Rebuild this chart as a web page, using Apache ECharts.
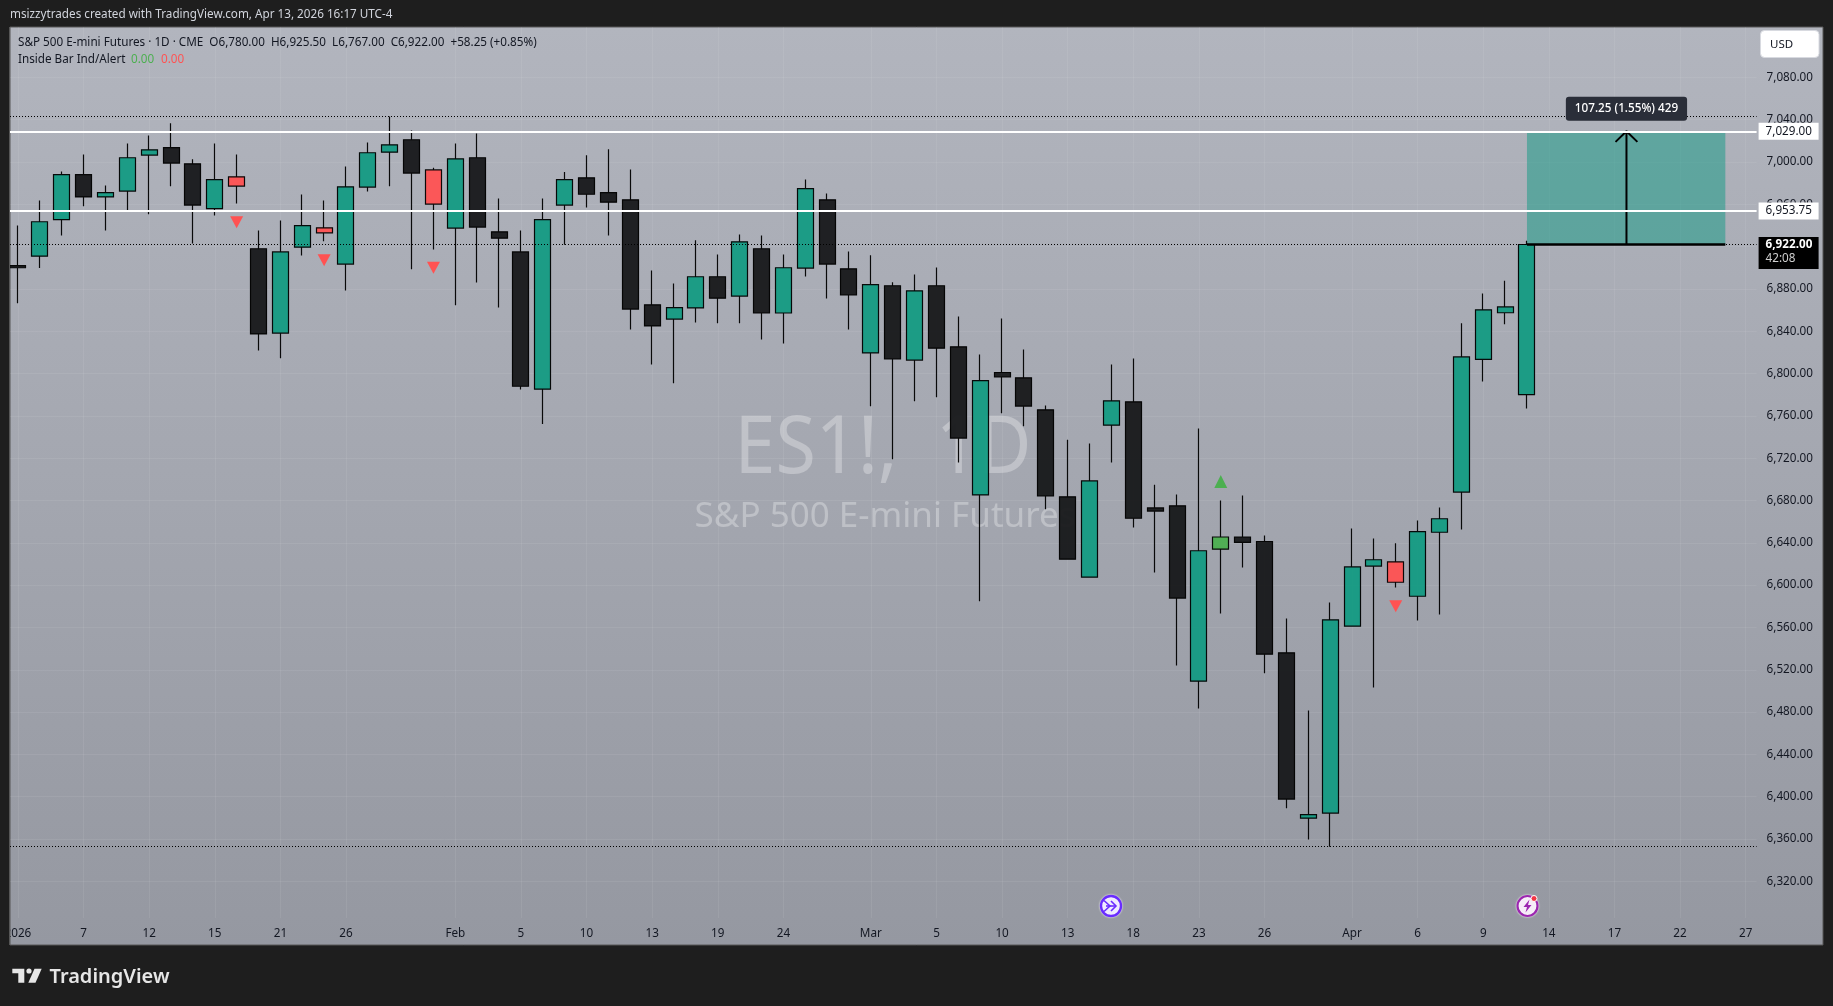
<!DOCTYPE html>
<html>
<head>
<meta charset="utf-8">
<title>ES1! 1D</title>
<style>html,body{margin:0;padding:0;background:#1e1e1e;overflow:hidden}#c{width:1833px;height:1006px}</style>
<script src="https://cdn.jsdelivr.net/npm/echarts@6/dist/echarts.min.js"></script>
</head>
<body>
<div id="c"></div>
<script>
const dates = ['01-02','01-05','01-06','01-07','01-08','01-09','01-12','01-13','01-14','01-15','01-16','01-20','01-21','01-22','01-23','01-26','01-27','01-28','01-29','01-30','02-02','02-03','02-04','02-05','02-06','02-09','02-10','02-11','02-12','02-13','02-17','02-18','02-19','02-20','02-23','02-24','02-25','02-26','02-27','03-02','03-03','03-04','03-05','03-06','03-09','03-10','03-11','03-12','03-13','03-16','03-17','03-18','03-19','03-20','03-23','03-24','03-25','03-26','03-27','03-30','03-31','04-01','04-02','04-03','04-06','04-07','04-08','04-09','04-10','04-13','04-14','04-15','04-16','04-17','04-20','04-21','04-22','04-23','04-24','04-27'];
const opens = [6902,6911,6945.5,6988,6967,6972.5,7006.5,7013.5,6998.25,6956,6977.25,6918,6838.25,6919.5,6933,6903.5,6976.25,7009.25,7021,6960.25,6937.5,7004,6934,6915,6785.25,6959.25,6985,6971,6964.25,6865,6851.5,6862,6891.5,6873.25,6918,6857.25,6899.75,6964.25,6899,6819.5,6883,6812.75,6883,6825.25,6685.25,6801,6796,6765.75,6683.5,6607.5,6751.25,6773.25,6673,6675,6509.25,6634,6645.5,6641.25,6536,6379.75,6384.5,6561.25,6618,6602.75,6589.5,6650,6688,6813.5,6857.5,6780];
const closes = [6900,6943.5,6988,6967,6971,7004,7011.5,6999,6959.25,6983.25,6986,6837.5,6915,6939.75,6937.75,6976.5,7008.75,7016.25,6989.5,6992.5,7003,6938.5,6928,6788,6945.5,6983.25,6969.5,6962,6861,6845,6862.25,6891.5,6871.25,6924.5,6857.25,6900,6974.75,6903.5,6874.25,6884,6813.75,6878.25,6824,6739,6793.25,6796.75,6769.25,6684.25,6624.5,6698.5,6774.25,6663.25,6670,6587.75,6632.5,6645.5,6640.5,6534.75,6397.75,6383,6567.25,6617.25,6624,6622,6650.5,6662.75,6815.75,6860.25,6863,6922];
const lows = [6866.5,6899.75,6930.5,6958.25,6935.25,6954.25,6950.5,6977,6923,6949.5,6960.75,6821.75,6814.5,6911.5,6925,6878.5,6972,6977,6898.5,6917.25,6864.5,6886,6862.5,6785,6752.25,6921.75,6957,6930.5,6841.75,6808.5,6790.75,6848.25,6847.5,6847.5,6832.25,6828.5,6891.75,6871,6841.75,6769,6719,6773.75,6777.5,6716,6584.75,6762.5,6750.25,6671.75,6624.5,6607.5,6716,6654.5,6612,6524,6483.5,6573.25,6616.75,6516.75,6389,6359.5,6352.75,6561.25,6503.25,6597.75,6566.5,6572.25,6652.5,6792.5,6846.5,6767];
const highs = [6940,6963.5,6991,7007,6977.75,7017.5,7025,7036.5,7002.5,7017.5,7007,6935.25,6944.75,6969.25,6963.5,6995.75,7018.5,7043,7029.75,6994.5,7017.5,7027,6965.5,6935.25,6965.5,6990.5,7006.25,7012,6993,6897.5,6885.25,6926,6912.5,6931.5,6930.5,6912.5,6983.5,6970.25,6915.5,6911.75,6886.25,6893.75,6900.25,6854,6818,6852,6822.75,6769.75,6737.5,6734,6808.5,6814.25,6695,6685.75,6748,6680,6684.75,6647,6568.5,6481.5,6583.5,6653.5,6644,6639.5,6661,6673.5,6847.5,6875.75,6887.75,6925.5];
const redBars = [10,14,19,63];
const limeBars = [55];
const sellIdx = [10,14,19,63];
const sellPrice = [6943,6907,6900,6580];
const buyIdx = [55];
const buyPrice = [6698];
const tickIdx = [0,3,6,9,12,15,20,23,26,29,32,35,39,42,45,48,51,54,57,61,64,67,70,73,76,79];
const tickText = ['2026','7','12','15','21','26','Feb','5','10','13','19','24','Mar','5','10','13','18','23','26','Apr','6','9','14','17','22','27'];
const priceTicks = [6320,6360,6400,6440,6480,6520,6560,6600,6640,6680,6720,6760,6800,6840,6880,6920,6960,7000,7040,7080];
const whiteLevels = [7029,6953.75];
const dottedLevels = [7043,6353];
const lastPrice = 6922;
const countdown = '42:08';
const toolStartX = 69, toolEndX = 78.07, toolMidX = 73.55;
const toolFrom = 6922, toolTo = 7029;
const toolText = '107.25 (1.55%) 429';

const FONT = '"Noto Sans", sans-serif';
const DARK = '#131722';
const TS = 11.7;
const fmt = v => v.toLocaleString('en-US',{minimumFractionDigits:2,maximumFractionDigits:2});
const candleData = opens.map((o,i)=>{
  const item = {value:[o,closes[i],lows[i],highs[i]]};
  if (redBars.includes(i)) item.itemStyle = {color:'#ff5252',color0:'#ff5252'};
  if (limeBars.includes(i)) item.itemStyle = {color:'#4caf50',color0:'#4caf50'};
  return item;
});
const tagLabel = {
  show:true, position:'end', distance:2, color:DARK, fontFamily:FONT, fontSize:TS,
  backgroundColor:'#ffffff', padding:[2,6,2,7], lineHeight:13, width:47, align:'left',
  formatter:p=>fmt(p.value)
};
const txt = (x,y,text,fill,size,extra) => ({type:'text',x,y,z:(extra&&extra.z)||5,silent:true,style:Object.assign({text,fill,font:(extra&&extra.weight||'normal')+' '+size+'px '+FONT,textVerticalAlign:'middle',textAlign:(extra&&extra.align)||'left'},(extra&&extra.style)||{})});

const chart = echarts.init(document.getElementById('c'),null,{renderer:'canvas'});
chart.setOption({
  animation:false,
  backgroundColor:'#1e1e1e',
  textStyle:{fontFamily:FONT},
  grid:{left:7,right:76.4,top:27,bottom:88,containLabel:false},
  xAxis:[
    {type:'category',data:dates,boundaryGap:true,
      axisLine:{show:false},axisTick:{show:false},
      axisLabel:{interval:0,margin:10,color:DARK,fontSize:TS,fontFamily:FONT,hideOverlap:false,
        formatter:(v,i)=>{const k=tickIdx.indexOf(i);return k<0?'':tickText[k];}},
      splitLine:{show:true,alignWithLabel:true,interval:i=>tickIdx.includes(i),lineStyle:{color:'rgba(255,255,255,0.07)',width:1}}
    },
    {type:'value',min:-0.5,max:79.5,show:false}
  ],
  yAxis:{type:'value',position:'right',min:6285.35,max:7127.6,scale:true,
    axisLine:{show:false},axisTick:{show:false,customValues:priceTicks},
    axisLabel:{customValues:priceTicks,margin:10,color:DARK,fontSize:TS,fontFamily:FONT,formatter:v=>fmt(v),showMinLabel:true,showMaxLabel:true},
    splitLine:{show:true,lineStyle:{color:'rgba(255,255,255,0.07)',width:1}}
  },
  graphic:{elements:[
    {type:'rect',z:-10,silent:true,shape:{x:10,y:27,width:1813,height:918},
      style:{stroke:'#565656',lineWidth:1,fill:new echarts.graphic.LinearGradient(0,0,0,1,[{offset:0,color:'#b2b5be'},{offset:1,color:'#9598a1'}])}},
    {type:'text',z:-5,silent:true,x:883,y:450,scaleX:0.92,style:{text:'ES1!,  1D',fill:'rgba(255,255,255,0.3)',font:'normal 80px '+FONT,textAlign:'center',textVerticalAlign:'middle'}},
    {type:'text',z:-5,silent:true,x:885,y:517,style:{text:'S&P 500 E-mini Futures',fill:'rgba(255,255,255,0.3)',font:'normal 35px '+FONT,textAlign:'center',textVerticalAlign:'middle'}},
    {type:'rect',z:50,silent:true,shape:{x:0,y:26,width:9.5,height:920},style:{fill:'#1e1e1e'}},
    {type:'line',z:50,silent:true,shape:{x1:9.5,y1:27,x2:9.5,y2:945},style:{stroke:'#565656',lineWidth:1}},
    txt(10,15,'msizzytrades created with TradingView.com, Apr 13, 2026 16:17 UTC-4','#d1d4dc',TS),
    txt(18,42.3,'S&P 500 E-mini Futures · 1D · CME  O6,780.00  H6,925.50  L6,767.00  C6,922.00  +58.25 (+0.85%)',DARK,TS),
    txt(18,59.3,'Inside Bar Ind/Alert',DARK,TS),
    txt(131,59.3,'0.00','#4caf50',TS),
    txt(161,59.3,'0.00','#ff5252',TS),
    {type:'rect',z:30,silent:true,shape:{x:1760.5,y:30.5,width:58.5,height:27,r:4},style:{fill:'#ffffff',stroke:'#d8dae0',lineWidth:1}},
    txt(1770,44.5,'USD',DARK,11.5,{z:31}),
    // TradingView logo
    {type:'polygon',z:5,silent:true,shape:{points:[[12.3,968.7],[24.3,968.7],[24.3,982.7],[18.3,982.7],[18.3,973.3],[12.3,973.3]]},style:{fill:'#e6e6e6'}},
    {type:'circle',z:5,silent:true,shape:{cx:29,cy:971,r:2.6},style:{fill:'#e6e6e6'}},
    {type:'polygon',z:5,silent:true,shape:{points:[[34.5,968.7],[41.7,968.7],[35.5,982.7],[28.3,982.7]]},style:{fill:'#e6e6e6'}},
    txt(49.5,977,'TradingView','#e6e6e6',20,{weight:'600'}),
    // event icons
    {type:'circle',z:6,silent:true,shape:{cx:1111,cy:906,r:10},style:{fill:'#efeaff',stroke:'#6a2cff',lineWidth:2.4,shadowColor:'#ffffff',shadowBlur:2}},
    {type:'polyline',z:7,silent:true,shape:{points:[[1104,900.5],[1110,906],[1104,911.5]]},style:{stroke:'#6a2cff',lineWidth:1.6,fill:null}},
    {type:'polyline',z:7,silent:true,shape:{points:[[1111,901],[1116,906],[1111,911]]},style:{stroke:'#6a2cff',lineWidth:1.6,fill:null}},
    {type:'line',z:7,silent:true,shape:{x1:1106,y1:906,x2:1116,y2:906},style:{stroke:'#6a2cff',lineWidth:1.6}},
    {type:'circle',z:6,silent:true,shape:{cx:1527.5,cy:906,r:10},style:{fill:'#f6ecf8',stroke:'#9c27b0',lineWidth:2.2,shadowColor:'#ffffff',shadowBlur:2}},
    {type:'polygon',z:7,silent:true,shape:{points:[[1529.5,899.5],[1523.5,907],[1527,907],[1525.5,912.5],[1531.5,905],[1528,905]]},style:{fill:'#9c27b0'}},
    {type:'circle',z:8,silent:true,shape:{cx:1534,cy:898.5,r:3},style:{fill:'#f23645',stroke:'#ffffff',lineWidth:1}}
  ]},
  series:[
    {type:'line',name:'levels',data:[],z:1,silent:true,
      markLine:{silent:true,symbol:'none',animation:false,precision:2,
        data:[
          ...whiteLevels.map(v=>({yAxis:v,lineStyle:{color:'#ffffff',width:2,type:'solid',opacity:1},label:tagLabel})),
          {yAxis:lastPrice,lineStyle:{color:'#000000',width:1,type:[1,2],opacity:1},
            label:{show:true,position:'end',distance:2,backgroundColor:'#000000',padding:[1,6,3,7],width:47,offset:[0,8.5],
              formatter:p=>'{a|'+fmt(p.value)+'}\n{b|'+countdown+'}',
              rich:{a:{color:'#ffffff',fontWeight:'bold',fontSize:TS,fontFamily:FONT,lineHeight:14},b:{color:'#cfcfcf',fontSize:TS,fontFamily:FONT,lineHeight:14}}}},
          ...dottedLevels.map(v=>({yAxis:v,lineStyle:{color:'#000000',width:1,type:[1,2],opacity:1},label:{show:false}}))
        ]}
    },
    {type:'line',name:'toolBox',xAxisIndex:1,data:[],z:0,silent:true,
      markArea:{silent:true,itemStyle:{color:'rgba(8,153,129,0.48)'},data:[[{coord:[toolStartX,toolTo]},{coord:[toolEndX,toolFrom]}]]}
    },
    {type:'candlestick',name:'ES1!',z:3,data:candleData,barWidth:16.5,clip:true,
      itemStyle:{color:'#149b83',color0:'#17181a',borderColor:'#000000',borderColor0:'#000000',borderWidth:1.2,opacity:0.95}},
    {type:'line',name:'toolBase',xAxisIndex:1,z:4,silent:true,symbol:'none',lineStyle:{color:'#000000',width:2.4},
      data:[[toolStartX,toolFrom],[toolEndX,toolFrom]]},
    {type:'line',name:'toolArrow',xAxisIndex:1,z:4,silent:true,symbol:'none',lineStyle:{color:'#000000',width:2},
      data:[[toolMidX,toolFrom],[toolMidX,toolTo],[toolMidX-0.5,toolTo-10],[toolMidX,toolTo],[toolMidX+0.5,toolTo-10]]},
    {type:'scatter',name:'toolLabel',xAxisIndex:1,z:6,silent:true,symbolSize:1,itemStyle:{color:'transparent',opacity:1},
      data:[[toolMidX,7050.3]],
      label:{show:true,position:'inside',formatter:toolText,color:'#ffffff',fontFamily:FONT,fontSize:TS,fontWeight:500,opacity:1,
        backgroundColor:'#2a2e39',borderRadius:3,padding:[6,9,6,9]}},
    {type:'scatter',name:'sell',z:5,silent:true,symbol:'triangle',symbolRotate:180,symbolSize:[13,12],itemStyle:{color:'#ff5252',opacity:1},
      data:sellIdx.map((x,i)=>[x,sellPrice[i]])},
    {type:'scatter',name:'buy',z:5,silent:true,symbol:'triangle',symbolSize:[13,13],itemStyle:{color:'#4caf50',opacity:1},
      data:buyIdx.map((x,i)=>[x,buyPrice[i]])}
  ]
});
</script>
</body>
</html>
